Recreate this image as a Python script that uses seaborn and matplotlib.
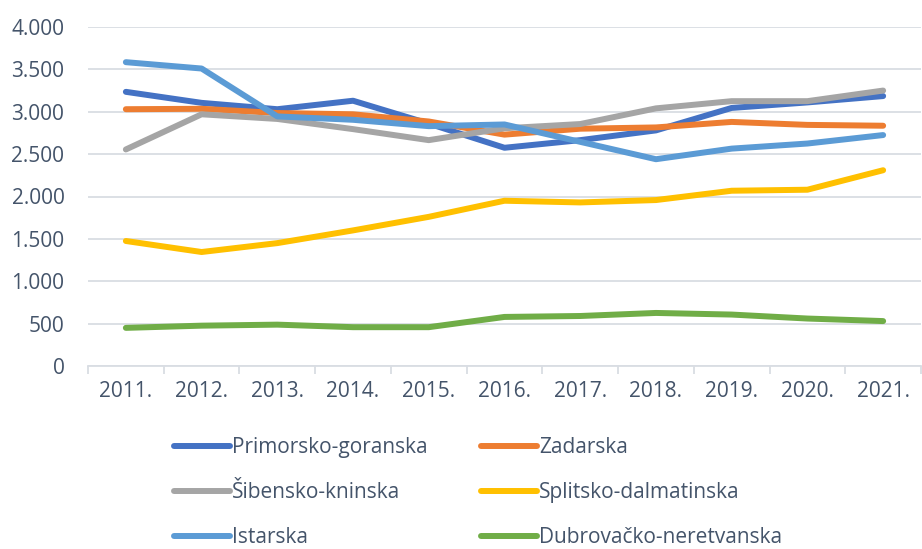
import pandas as pd
import matplotlib.pyplot as plt
import seaborn as sns

# ------------------------------------------------------------
# Data
# ------------------------------------------------------------
years = ["2011.", "2012.", "2013.", "2014.", "2015.", "2016.",
         "2017.", "2018.", "2019.", "2020.", "2021."]

primorsko_goranska = [3235, 3105, 3030, 3130, 2860, 2575, 2665, 2780, 3045, 3110, 3185]
zadarska = [3030, 3035, 2985, 2970, 2885, 2730, 2800, 2815, 2880, 2845, 2835]
sibensko_kninska = [2555, 2970, 2915, 2795, 2665, 2805, 2855, 3040, 3125, 3125, 3250]
splitsko_dalmatinska = [1475, 1345, 1450, 1600, 1760, 1950, 1930, 1958, 2068, 2080, 2310]
istarska = [3585, 3510, 2945, 2905, 2830, 2850, 2645, 2440, 2565, 2625, 2725]
dubrovacko_neretvanska = [450, 476, 488, 458, 458, 579, 590, 626, 607, 560, 530]

series_names = ["Primorsko-goranska", "Zadarska", "Šibensko-kninska",
                "Splitsko-dalmatinska", "Istarska", "Dubrovačko-neretvanska"]
series_values = [primorsko_goranska, zadarska, sibensko_kninska,
                 splitsko_dalmatinska, istarska, dubrovacko_neretvanska]
colors = ["#4472C4", "#ED7D31", "#A5A5A5", "#FFC000", "#5B9BD5", "#70AD47"]

rows = []
for name, vals in zip(series_names, series_values):
    for i, (yr, v) in enumerate(zip(years, vals)):
        rows.append({"idx": i, "year": yr, "value": v, "series": name})
df = pd.DataFrame(rows)

# ------------------------------------------------------------
# Plot
# ------------------------------------------------------------
sns.set_theme(style="white")
plt.rcParams["font.family"] = ["Open Sans", "DejaVu Sans"]
text_color = "#44546A"
grid_color = "#D9DDE3"

fig = plt.figure(figsize=(9.22, 5.49), dpi=100)
ax = fig.add_axes([88 / 922, 1 - 366 / 549, 833 / 922, 339 / 549])

sns.lineplot(data=df, x="idx", y="value", hue="series",
             hue_order=series_names, palette=colors,
             linewidth=4.3, ax=ax, legend=True,
             solid_capstyle="round")

ax.set_xlim(-0.5, 10.5)
ax.set_ylim(0, 4000)
ax.set_yticks(range(0, 4001, 500))
ax.set_yticklabels([f"{v:,}".replace(",", ".") for v in range(0, 4001, 500)])
ax.set_xticks(range(len(years)))
ax.set_xticklabels(years)
ax.set_xticks([i - 0.5 for i in range(len(years) + 1)], minor=True)

ax.grid(axis="y", color=grid_color, linewidth=1.3)
ax.set_axisbelow(True)
for side in ["top", "right", "left"]:
    ax.spines[side].set_visible(False)
ax.spines["bottom"].set_color(grid_color)
ax.spines["bottom"].set_linewidth(1.3)

ax.tick_params(axis="x", which="major", length=0, pad=11,
               labelsize=15, labelcolor=text_color)
ax.tick_params(axis="x", which="minor", length=6, width=1.3,
               color=grid_color, direction="out", bottom=True)
ax.tick_params(axis="y", length=0, pad=17, labelsize=15,
               labelcolor=text_color)
ax.set_xlabel("")
ax.set_ylabel("")

# legend: row-wise order, two columns
handles, labels = ax.get_legend_handles_labels()
order = [0, 2, 4, 1, 3, 5]
leg = ax.legend([handles[i] for i in order], [labels[i] for i in order],
                ncol=2, loc="upper left", bbox_to_anchor=(0.093, -0.186),
                frameon=False, fontsize=15, handlelength=2.7,
                handletextpad=0.1, columnspacing=2.55, labelspacing=1.15,
                borderaxespad=0, labelcolor=text_color)
for line in leg.get_lines():
    line.set_linewidth(4.3)
    line.set_solid_capstyle("round")

plt.savefig("out.png", dpi=100)
